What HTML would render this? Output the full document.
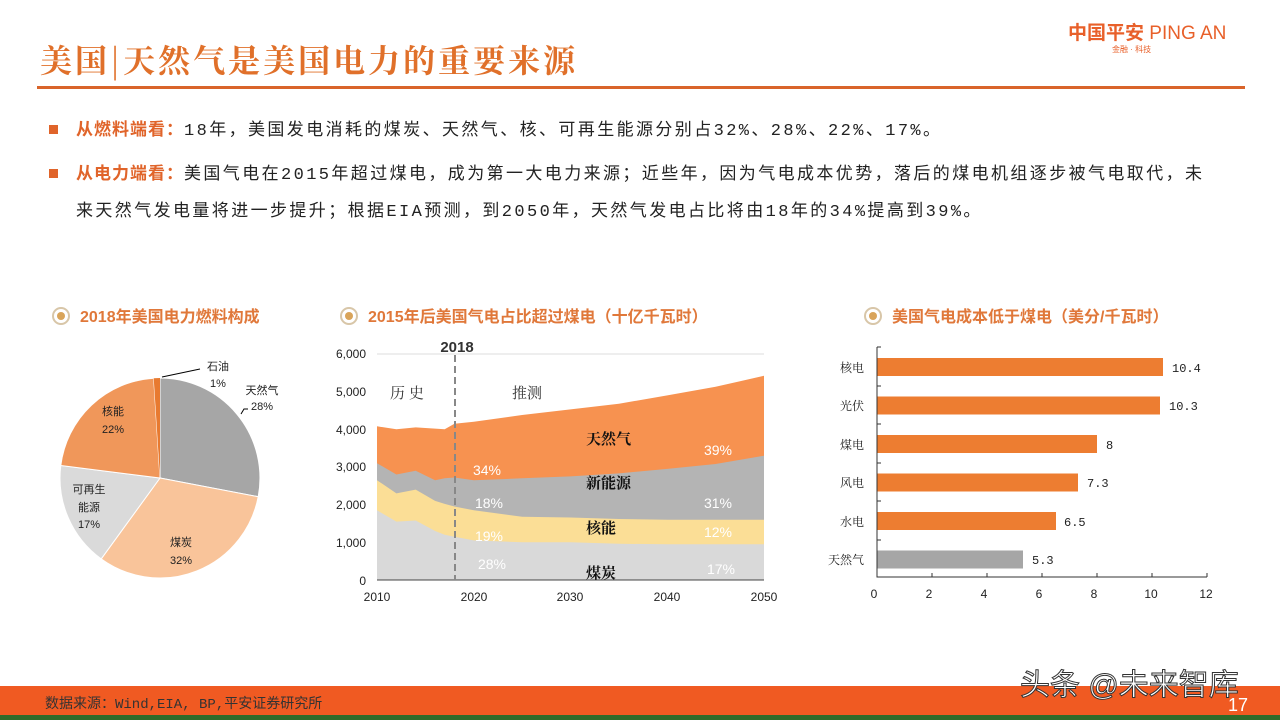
<!DOCTYPE html>
<html><head><meta charset="utf-8"><style>
body{margin:0;width:1280px;height:720px;overflow:hidden;background:#fff;font-family:"Liberation Sans","Noto Sans CJK SC",sans-serif;position:relative}
.a{position:absolute;white-space:nowrap}
.t{font-family:"Noto Serif CJK SC","Noto Sans CJK SC",serif}
.hd{font-size:16px;font-weight:bold;color:#E0783A}
.ic{display:inline-block;width:14px;height:14px;border:2px solid #D8C6A8;border-radius:50%;position:relative;vertical-align:-3px;margin-right:10px}
.ic:after{content:"";position:absolute;left:3px;top:3px;width:8px;height:8px;border-radius:50%;background:#D9A45A}
.p{font-size:17px;color:#222;font-family:"Liberation Mono","Noto Sans CJK SC",monospace;letter-spacing:2.4px}
.p b{color:#E0642A;letter-spacing:1px}
.sq{display:inline-block;width:9px;height:9px;background:#E0642A;margin-right:18px;vertical-align:1px}
</style></head><body>
<div class="a t" style="left:40px;top:36px;font-size:32px;font-weight:bold;color:#E0702A;letter-spacing:3px">美国<span style="font-weight:normal">|</span>天然气是美国电力的重要来源</div>
<div class="a" style="left:1068px;top:18px;font-size:19px;font-weight:bold;color:#E8602A">中国平安 <span style="font-weight:normal">PING AN</span></div>
<div class="a" style="left:1112px;top:44px;font-size:8px;color:#E8602A">金融 · 科技</div>
<div class="a" style="left:37px;top:86px;width:1208px;height:3px;background:#D9642A"></div>
<div class="a p" style="left:49px;top:115px"><span class="sq"></span><b>从燃料端看：</b>18年，美国发电消耗的煤炭、天然气、核、可再生能源分别占32%、28%、22%、17%。</div>
<div class="a p" style="left:49px;top:159px"><span class="sq"></span><b>从电力端看：</b>美国气电在2015年超过煤电，成为第一大电力来源；近些年，因为气电成本优势，落后的煤电机组逐步被气电取代，未</div>
<div class="a p" style="left:76px;top:196px">来天然气发电量将进一步提升；根据EIA预测，到2050年，天然气发电占比将由18年的34%提高到39%。</div>

<div class="a hd" style="left:52px;top:303px"><span class="ic"></span>2018年美国电力燃料构成</div>
<div class="a hd" style="left:340px;top:303px"><span class="ic"></span>2015年后美国气电占比超过煤电（十亿千瓦时）</div>
<div class="a hd" style="left:864px;top:303px"><span class="ic"></span>美国气电成本低于煤电（美分/千瓦时）</div>

<svg class="a" style="left:0;top:0" width="1280" height="720" font-family="Liberation Sans,Noto Sans CJK SC,sans-serif">
<path d="M160,478 L160,378 A100,100 0 0 1 258.2,496.7Z" fill="#A6A6A6" stroke="#fff"/>
<path d="M160,478 L258.2,496.7 A100,100 0 0 1 101.2,558.9Z" fill="#F9C49A" stroke="#fff"/>
<path d="M160,478 L101.2,558.9 A100,100 0 0 1 60.8,465.5Z" fill="#DADADA" stroke="#fff"/>
<path d="M160,478 L60.8,465.5 A100,100 0 0 1 153.7,378.2Z" fill="#F0975A" stroke="#fff"/>
<path d="M160,478 L153.7,378.2 A100,100 0 0 1 160,378Z" fill="#E87A30"/>
<polyline points="162,377 200,369" stroke="#000" fill="none"/>
<polyline points="241,414 244,409 248,409" stroke="#000" fill="none"/>
<g font-size="11" fill="#222" text-anchor="middle">
<text x="218" y="370">石油</text><text x="218" y="387">1%</text>
<text x="262" y="394">天然气</text><text x="262" y="410">28%</text>
<text x="113" y="415">核能</text><text x="113" y="433">22%</text>
<text x="89" y="493">可再生</text><text x="89" y="511">能源</text><text x="89" y="528">17%</text>
<text x="181" y="546">煤炭</text><text x="181" y="564">32%</text>
</g>
<g font-size="12" fill="#222" text-anchor="end">
<text x="366" y="358">6,000</text><text x="366" y="396">5,000</text><text x="366" y="434">4,000</text>
<text x="366" y="471">3,000</text><text x="366" y="509">2,000</text><text x="366" y="547">1,000</text><text x="366" y="585">0</text>
</g>
<line x1="377" y1="354" x2="764" y2="354" stroke="#ddd"/>
<polygon fill="#F79250" points="377,580 377,426.3 396.4,429.3 415.7,427.4 435.1,428.6 444.7,429.3 454.4,423.7 473.8,421.8 522.1,415 570.5,409.4 618.9,403.7 667.3,395.4 715.6,386.8 764,375.8 764,580"/>
<polygon fill="#B4B4B4" points="377,580 377,463.2 396.4,474.5 415.7,470.8 435.1,480.2 444.7,478.3 454.4,477.5 473.8,480.2 522.1,478.3 570.5,476.4 618.9,473.4 667.3,468.9 715.6,464 764,455.7 764,580"/>
<polygon fill="#FBDE96" points="377,580 377,480.2 396.4,493.4 415.7,489.6 435.1,500.9 444.7,503.9 454.4,506.5 473.8,510.3 522.1,516.7 570.5,517.5 618.9,519 667.3,519.7 715.6,519.7 764,519.7 764,580"/>
<polygon fill="#D9D9D9" points="377,580 377,510.3 396.4,521.6 415.7,520.5 435.1,531 444.7,534.8 454.4,536.7 473.8,540.4 522.1,542.3 570.5,542.3 618.9,543.8 667.3,544.2 715.6,544.2 764,544.2 764,580"/>
<line x1="377" y1="580" x2="764" y2="580" stroke="#444"/>
<line x1="455" y1="355" x2="455" y2="580" stroke="#888" stroke-width="2" stroke-dasharray="7,4"/>
<g font-size="12" fill="#222" text-anchor="middle">
<text x="377" y="601">2010</text><text x="474" y="601">2020</text><text x="570" y="601">2030</text><text x="667" y="601">2040</text><text x="764" y="601">2050</text>
</g>
<text x="457" y="352" font-size="15" font-weight="bold" fill="#333" text-anchor="middle">2018</text>
<g font-size="15" fill="#333" font-family="Noto Serif CJK SC,serif"><text x="390" y="398">历 史</text><text x="512" y="398">推测</text></g>
<g font-size="15" font-weight="bold" fill="#111" font-family="Noto Serif CJK SC,serif">
<text x="586" y="444">天然气</text><text x="586" y="488">新能源</text><text x="586" y="533">核能</text><text x="586" y="578">煤炭</text></g>
<g font-size="14" fill="#fff" text-anchor="middle">
<text x="487" y="475">34%</text><text x="718" y="455">39%</text><text x="489" y="508">18%</text><text x="718" y="508">31%</text>
<text x="489" y="541">19%</text><text x="718" y="537">12%</text><text x="492" y="569">28%</text><text x="721" y="574">17%</text></g>
<g fill="#ED7D31">
<rect x="877" y="358" width="286" height="18"/><rect x="877" y="396.5" width="283" height="18"/>
<rect x="877" y="435" width="220" height="18"/><rect x="877" y="473.5" width="201" height="18"/>
<rect x="877" y="512" width="179" height="18"/></g>
<rect x="877" y="550.5" width="146" height="18" fill="#A6A6A6"/>
<path d="M877,347 V577 H1207" stroke="#333" fill="none"/>
<g stroke="#333"><line x1="877" y1="347" x2="881" y2="347"/><line x1="877" y1="386" x2="881" y2="386"/><line x1="877" y1="424" x2="881" y2="424"/><line x1="877" y1="463" x2="881" y2="463"/><line x1="877" y1="501" x2="881" y2="501"/><line x1="877" y1="540" x2="881" y2="540"/>
<line x1="932" y1="577" x2="932" y2="573"/><line x1="987" y1="577" x2="987" y2="573"/><line x1="1042" y1="577" x2="1042" y2="573"/><line x1="1097" y1="577" x2="1097" y2="573"/><line x1="1152" y1="577" x2="1152" y2="573"/><line x1="1207" y1="577" x2="1207" y2="573"/></g>
<g font-size="12" fill="#222" text-anchor="middle">
<text x="874" y="598">0</text><text x="929" y="598">2</text><text x="984" y="598">4</text><text x="1039" y="598">6</text><text x="1094" y="598">8</text><text x="1151" y="598">10</text><text x="1206" y="598">12</text></g>
<g font-size="12" fill="#222" text-anchor="end" font-family="Noto Serif CJK SC,serif">
<text x="864" y="372">核电</text><text x="864" y="410">光伏</text><text x="864" y="449">煤电</text><text x="864" y="487">风电</text><text x="864" y="526">水电</text><text x="864" y="564">天然气</text></g>
<g font-size="12" fill="#222" font-family="Liberation Mono,monospace">
<text x="1172" y="372">10.4</text><text x="1169" y="410">10.3</text><text x="1106" y="449">8</text><text x="1087" y="487">7.3</text><text x="1064" y="526">6.5</text><text x="1032" y="564">5.3</text></g>
<rect x="0" y="686" width="1280" height="29" fill="#F05A22"/>
<rect x="0" y="715" width="1280" height="5" fill="#2F6B2A"/>
<text x="45" y="708" font-size="14" fill="#333" font-family="Liberation Mono,Noto Sans CJK SC,monospace">数据来源：Wind,EIA, BP,平安证券研究所</text>
<text x="1020" y="695" font-size="30" fill="#fff" stroke="#333" stroke-width="1">头条 @未来智库</text>
<text x="1228" y="711" font-size="18" fill="#fff">17</text>
</svg>
</body></html>
